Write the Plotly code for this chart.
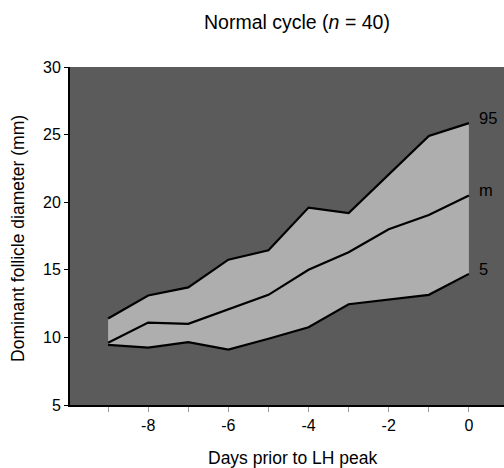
import plotly.graph_objects as go

days = [-9, -8, -7, -6, -5, -4, -3, -2, -1, 0]
p95 = [11.4, 13.1, 13.7, 15.75, 16.45, 19.6, 19.2, 22.05, 24.9, 25.85]
median = [9.6, 11.1, 11.0, 12.05, 13.15, 15.0, 16.3, 18.0, 19.05, 20.5]
p5 = [9.45, 9.25, 9.65, 9.1, 9.9, 10.75, 12.45, 12.8, 13.15, 14.7]

xtick_vals = [-9, -8, -7, -6, -5, -4, -3, -2, -1, 0]
xtick_text = ["", "-8", "", "-6", "", "-4", "", "-2", "", "0"]
ytick_vals = [5, 10, 15, 20, 25, 30]
series_labels = ["95", "m", "5"]

FONT = "Liberation Sans, Arial, Helvetica, sans-serif"

fig = go.Figure()

# band fill
band_x = days + days[::-1]
band_y = p95 + p5[::-1]
fig.add_trace(go.Scatter(x=band_x, y=band_y, fill="toself", mode="none",
                         fillcolor="#aeaeae", hoverinfo="skip", showlegend=False))

for ys in (p95, median, p5):
    fig.add_trace(go.Scatter(x=days, y=ys, mode="lines",
                             line=dict(color="black", width=2.2),
                             showlegend=False))

for lab, ys in zip(series_labels, (p95, median, p5)):
    fig.add_annotation(x=days[-1], y=ys[-1], text=lab, showarrow=False,
                       xanchor="left", yanchor="middle", xshift=8, yshift=5,
                       font=dict(size=16.5, color="black", family=FONT))

fig.add_annotation(xref="paper", yref="paper", x=0.523, y=1.133,
                   text="Normal cycle (<i>n</i> = 40)", showarrow=False,
                   xanchor="center", yanchor="middle",
                   font=dict(size=19.5, color="black", family=FONT))
fig.add_annotation(xref="paper", yref="paper", x=0.512, y=-0.157,
                   text="Days prior to LH peak", showarrow=False,
                   xanchor="center", yanchor="middle",
                   font=dict(size=17.5, color="black", family=FONT))
fig.add_annotation(xref="paper", yref="paper", x=-0.12, y=0.494,
                   text="Dominant follicle diameter (mm)", showarrow=False,
                   textangle=-90, xanchor="center", yanchor="middle",
                   font=dict(size=17.5, color="black", family=FONT))

fig.update_layout(
    width=504, height=468,
    margin=dict(l=70, r=0, t=67, b=63),
    paper_bgcolor="white",
    plot_bgcolor="#5b5b5b",
    font=dict(family=FONT, color="black"),
    xaxis=dict(range=[-9.95, 0.875], tickvals=xtick_vals, ticktext=xtick_text,
               ticks="outside", ticklen=5, tickcolor="#9a9a9a", tickwidth=1,
               showgrid=False, zeroline=False, showline=True, linecolor="black",
               linewidth=2, tickfont=dict(size=16, color="black")),
    yaxis=dict(range=[5, 30], tickvals=ytick_vals,
               ticks="outside", ticklen=4, tickcolor="black", tickwidth=1,
               showgrid=False, zeroline=False, showline=True, linecolor="black",
               linewidth=2, tickfont=dict(size=16, color="black")),
)

fig.write_html("out.html", config={"displayModeBar": False},
               post_script="document.body.style.margin='0';document.body.style.overflow='hidden';")
